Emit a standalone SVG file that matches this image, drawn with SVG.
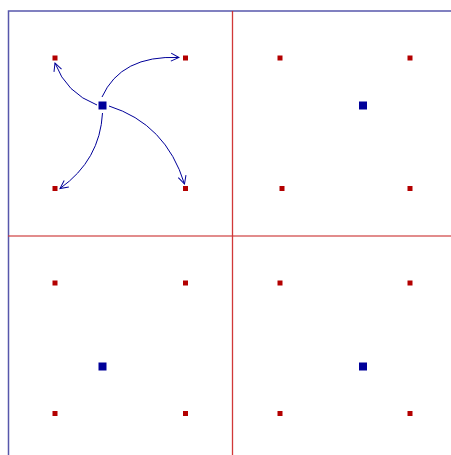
<svg xmlns="http://www.w3.org/2000/svg" width="451" height="455" viewBox="0 0 451 455">
<style>
.r{fill:#b30000}
.b{fill:#000099}
.c{fill:none;stroke:#000099;stroke-width:1}
</style>
<defs>
<marker id="ah" viewBox="0 0 10 10" refX="9" refY="5" markerWidth="10" markerHeight="10" markerUnits="userSpaceOnUse" orient="auto">
<path d="M1 1 L9 5 L1 9" fill="none" stroke="#000099" stroke-width="1"/>
</marker>
</defs>
<rect width="451" height="455" fill="#fff"/>
<g id="frame">
<path d="M8.5 460 V11 H460" fill="none" stroke="#3a3a9c" stroke-width="1.5" stroke-opacity="0.85"/>
<line x1="232.5" y1="11" x2="232.5" y2="460" stroke="#cc2222" stroke-width="1.3" stroke-opacity="0.9"/>
<line x1="8" y1="236" x2="460" y2="236" stroke="#cc3333" stroke-width="1.5" stroke-opacity="0.75"/>
</g>
<g id="q1">
<rect class="r" x="52.5" y="55.5" width="5" height="5"/>
<rect class="r" x="183" y="55.5" width="5" height="5"/>
<rect class="r" x="52.5" y="186" width="5" height="5"/>
<rect class="r" x="183" y="186" width="5" height="5"/>
<rect class="b" x="98.5" y="101.5" width="8" height="8"/>
</g>
<g id="q2">
<rect class="r" x="277.5" y="55.5" width="5" height="5"/>
<rect class="r" x="407.5" y="55.5" width="5" height="5"/>
<rect class="r" x="279.5" y="186" width="5" height="5"/>
<rect class="r" x="407.5" y="186" width="5" height="5"/>
<rect class="b" x="359" y="101.5" width="8" height="8"/>
</g>
<g id="q3">
<rect class="r" x="52.5" y="280.5" width="5" height="5"/>
<rect class="r" x="183" y="280.5" width="5" height="5"/>
<rect class="r" x="52.5" y="411" width="5" height="5"/>
<rect class="r" x="183" y="411" width="5" height="5"/>
<rect class="b" x="98.5" y="362.5" width="8" height="8"/>
</g>
<g id="q4">
<rect class="r" x="277.5" y="280.5" width="5" height="5"/>
<rect class="r" x="407.5" y="280.5" width="5" height="5"/>
<rect class="r" x="277.5" y="411" width="5" height="5"/>
<rect class="r" x="407.5" y="411" width="5" height="5"/>
<rect class="b" x="359" y="362.5" width="8" height="8"/>
</g>
<g id="connectors">
<path class="c" d="M97 105 Q66 93 55 63" marker-end="url(#ah)"/>
<path class="c" d="M102 97 Q121 55 179 57.5" marker-end="url(#ah)"/>
<path class="c" d="M102.5 113 Q100 160 60 188.5" marker-end="url(#ah)"/>
<path class="c" d="M109 106 Q166 124 184.5 184" marker-end="url(#ah)"/>
</g>
</svg>
